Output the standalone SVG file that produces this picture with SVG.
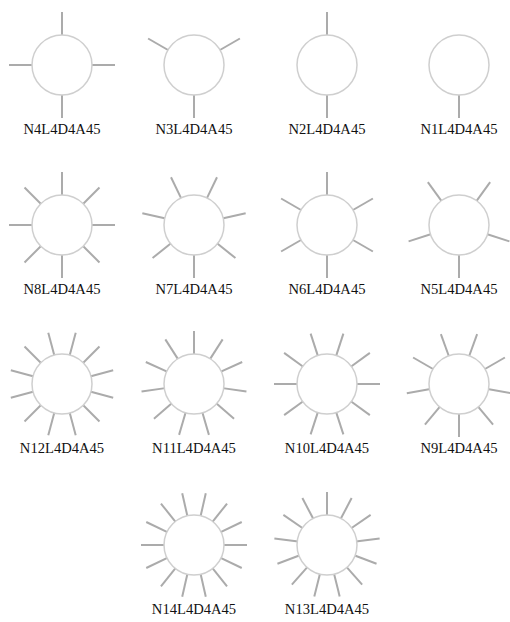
<svg xmlns="http://www.w3.org/2000/svg" xmlns:xlink="http://www.w3.org/1999/xlink" width="510" height="622" viewBox="0 0 510 622">
<style>
.ray{stroke:#ababab;stroke-width:2;fill:none}
.body{fill:#fff;stroke:#cfcfcf;stroke-width:1.5}
.lbl{font-family:"Liberation Serif","Times New Roman",serif;font-size:14.6px;fill:#111;text-anchor:middle}
</style>
<defs>
<line id="ray" class="ray" x1="29" y1="0" x2="53" y2="0"/>
</defs>
<rect width="510" height="622" fill="#fff"/>
<g id="connectors"></g>
<g id="N4L4D4A45" transform="translate(62,65)">
<use xlink:href="#ray" href="#ray" transform="rotate(90)"/><use href="#ray" transform="rotate(180)"/><use href="#ray" transform="rotate(270)"/><use href="#ray" transform="rotate(0)"/>
<circle class="body" r="30"/>
<text class="lbl" x="0" y="69">N4L4D4A45</text>
</g>
<g id="N3L4D4A45" transform="translate(194,65)">
<use href="#ray" transform="rotate(90)"/><use href="#ray" transform="rotate(210)"/><use href="#ray" transform="rotate(330)"/>
<circle class="body" r="30"/>
<text class="lbl" x="0" y="69">N3L4D4A45</text>
</g>
<g id="N2L4D4A45" transform="translate(327,65)">
<use href="#ray" transform="rotate(90)"/><use href="#ray" transform="rotate(270)"/>
<circle class="body" r="30"/>
<text class="lbl" x="0" y="69">N2L4D4A45</text>
</g>
<g id="N1L4D4A45" transform="translate(459,65)">
<use href="#ray" transform="rotate(90)"/>
<circle class="body" r="30"/>
<text class="lbl" x="0" y="69">N1L4D4A45</text>
</g>
<g id="N8L4D4A45" transform="translate(62,225)">
<use href="#ray" transform="rotate(90)"/><use href="#ray" transform="rotate(135)"/><use href="#ray" transform="rotate(180)"/><use href="#ray" transform="rotate(225)"/><use href="#ray" transform="rotate(270)"/><use href="#ray" transform="rotate(315)"/><use href="#ray" transform="rotate(0)"/><use href="#ray" transform="rotate(45)"/>
<circle class="body" r="30"/>
<text class="lbl" x="0" y="69">N8L4D4A45</text>
</g>
<g id="N7L4D4A45" transform="translate(194,225)">
<use href="#ray" transform="rotate(90)"/><use href="#ray" transform="rotate(141.43)"/><use href="#ray" transform="rotate(192.86)"/><use href="#ray" transform="rotate(244.29)"/><use href="#ray" transform="rotate(295.71)"/><use href="#ray" transform="rotate(347.14)"/><use href="#ray" transform="rotate(38.57)"/>
<circle class="body" r="30"/>
<text class="lbl" x="0" y="69">N7L4D4A45</text>
</g>
<g id="N6L4D4A45" transform="translate(327,225)">
<use href="#ray" transform="rotate(90)"/><use href="#ray" transform="rotate(150)"/><use href="#ray" transform="rotate(210)"/><use href="#ray" transform="rotate(270)"/><use href="#ray" transform="rotate(330)"/><use href="#ray" transform="rotate(30)"/>
<circle class="body" r="30"/>
<text class="lbl" x="0" y="69">N6L4D4A45</text>
</g>
<g id="N5L4D4A45" transform="translate(459,225)">
<use href="#ray" transform="rotate(90)"/><use href="#ray" transform="rotate(162)"/><use href="#ray" transform="rotate(234)"/><use href="#ray" transform="rotate(306)"/><use href="#ray" transform="rotate(18)"/>
<circle class="body" r="30"/>
<text class="lbl" x="0" y="69">N5L4D4A45</text>
</g>
<g id="N12L4D4A45" transform="translate(62,384)">
<use href="#ray" transform="rotate(105)"/><use href="#ray" transform="rotate(135)"/><use href="#ray" transform="rotate(165)"/><use href="#ray" transform="rotate(195)"/><use href="#ray" transform="rotate(225)"/><use href="#ray" transform="rotate(255)"/><use href="#ray" transform="rotate(285)"/><use href="#ray" transform="rotate(315)"/><use href="#ray" transform="rotate(345)"/><use href="#ray" transform="rotate(15)"/><use href="#ray" transform="rotate(45)"/><use href="#ray" transform="rotate(75)"/>
<circle class="body" r="30"/>
<text class="lbl" x="0" y="69">N12L4D4A45</text>
</g>
<g id="N11L4D4A45" transform="translate(194,384)">
<use href="#ray" transform="rotate(106.36)"/><use href="#ray" transform="rotate(139.09)"/><use href="#ray" transform="rotate(171.82)"/><use href="#ray" transform="rotate(204.55)"/><use href="#ray" transform="rotate(237.27)"/><use href="#ray" transform="rotate(270)"/><use href="#ray" transform="rotate(302.73)"/><use href="#ray" transform="rotate(335.45)"/><use href="#ray" transform="rotate(8.18)"/><use href="#ray" transform="rotate(40.91)"/><use href="#ray" transform="rotate(73.64)"/>
<circle class="body" r="30"/>
<text class="lbl" x="0" y="69">N11L4D4A45</text>
</g>
<g id="N10L4D4A45" transform="translate(327,384)">
<use href="#ray" transform="rotate(108)"/><use href="#ray" transform="rotate(144)"/><use href="#ray" transform="rotate(180)"/><use href="#ray" transform="rotate(216)"/><use href="#ray" transform="rotate(252)"/><use href="#ray" transform="rotate(288)"/><use href="#ray" transform="rotate(324)"/><use href="#ray" transform="rotate(0)"/><use href="#ray" transform="rotate(36)"/><use href="#ray" transform="rotate(72)"/>
<circle class="body" r="30"/>
<text class="lbl" x="0" y="69">N10L4D4A45</text>
</g>
<g id="N9L4D4A45" transform="translate(459,384)">
<use href="#ray" transform="rotate(90)"/><use href="#ray" transform="rotate(130)"/><use href="#ray" transform="rotate(170)"/><use href="#ray" transform="rotate(210)"/><use href="#ray" transform="rotate(250)"/><use href="#ray" transform="rotate(290)"/><use href="#ray" transform="rotate(330)"/><use href="#ray" transform="rotate(10)"/><use href="#ray" transform="rotate(50)"/>
<circle class="body" r="30"/>
<text class="lbl" x="0" y="69">N9L4D4A45</text>
</g>
<g id="N14L4D4A45" transform="translate(194,545)">
<use href="#ray" transform="rotate(102.86)"/><use href="#ray" transform="rotate(128.57)"/><use href="#ray" transform="rotate(154.29)"/><use href="#ray" transform="rotate(180)"/><use href="#ray" transform="rotate(205.71)"/><use href="#ray" transform="rotate(231.43)"/><use href="#ray" transform="rotate(257.14)"/><use href="#ray" transform="rotate(282.86)"/><use href="#ray" transform="rotate(308.57)"/><use href="#ray" transform="rotate(334.29)"/><use href="#ray" transform="rotate(0)"/><use href="#ray" transform="rotate(25.71)"/><use href="#ray" transform="rotate(51.43)"/><use href="#ray" transform="rotate(77.14)"/>
<circle class="body" r="30"/>
<text class="lbl" x="0" y="69">N14L4D4A45</text>
</g>
<g id="N13L4D4A45" transform="translate(327,545)">
<use href="#ray" transform="rotate(103.85)"/><use href="#ray" transform="rotate(131.54)"/><use href="#ray" transform="rotate(159.23)"/><use href="#ray" transform="rotate(186.92)"/><use href="#ray" transform="rotate(214.62)"/><use href="#ray" transform="rotate(242.31)"/><use href="#ray" transform="rotate(270)"/><use href="#ray" transform="rotate(297.69)"/><use href="#ray" transform="rotate(325.38)"/><use href="#ray" transform="rotate(353.08)"/><use href="#ray" transform="rotate(20.77)"/><use href="#ray" transform="rotate(48.46)"/><use href="#ray" transform="rotate(76.15)"/>
<circle class="body" r="30"/>
<text class="lbl" x="0" y="69">N13L4D4A45</text>
</g>
</svg>
